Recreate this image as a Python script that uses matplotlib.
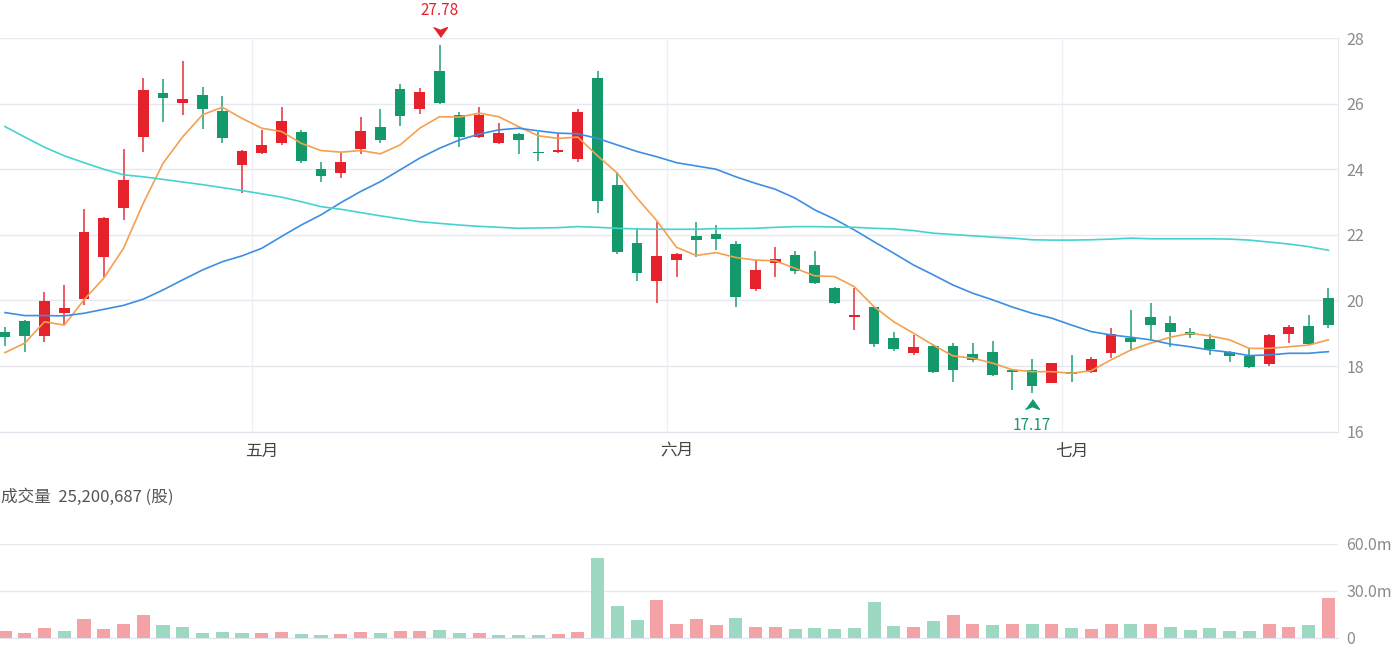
import matplotlib
matplotlib.use("Agg")
import matplotlib.pyplot as plt
import numpy as np
from matplotlib.ticker import FuncFormatter
from matplotlib.transforms import offset_copy

plt.rcParams['font.family'] = ['Noto Sans CJK SC', 'DejaVu Sans']

# daily prices
opens = [19.05, 19.37, 18.93, 19.61, 20.04, 21.32, 22.81, 24.98, 26.32, 26.02,
         26.27, 25.76, 24.13, 24.49, 24.79, 25.15, 24.00, 23.88, 24.62, 25.30,
         26.45, 25.84, 27.00, 25.66, 24.99, 24.81, 25.07, 24.54, 24.52, 24.30,
         26.77, 23.52, 21.76, 20.59, 21.23, 21.97, 22.02, 21.72, 20.34, 21.15,
         21.39, 21.08, 20.37, 19.51, 19.81, 18.85, 18.41, 18.61, 18.62, 18.37,
         18.44, 17.88, 17.88, 17.49, 17.83, 17.83, 18.39, 18.85, 19.51, 19.30,
         19.05, 18.82, 18.42, 18.31, 18.05, 18.98, 19.22, 20.07]
highs = [19.20, 19.40, 20.27, 20.47, 22.78, 22.55, 24.62, 26.79, 26.74, 27.30,
         26.50, 26.23, 24.60, 25.20, 25.91, 25.20, 24.23, 24.51, 25.60, 25.83,
         26.60, 26.47, 27.78, 25.74, 25.91, 25.40, 25.10, 25.15, 25.08, 25.84,
         27.00, 23.93, 22.18, 22.40, 21.45, 22.40, 22.30, 21.82, 21.23, 21.64,
         21.52, 21.51, 20.42, 20.37, 19.83, 19.05, 18.95, 18.64, 18.70, 18.70,
         18.77, 17.90, 18.21, 18.10, 18.34, 18.29, 19.15, 19.71, 19.93, 19.53,
         19.15, 18.98, 18.47, 18.54, 18.97, 19.25, 19.56, 20.39]
lows = [18.60, 18.44, 18.74, 19.25, 19.86, 20.73, 22.45, 24.52, 25.45, 25.66,
        25.23, 24.79, 23.29, 24.45, 24.75, 24.20, 23.62, 23.74, 24.46, 24.79,
        25.33, 25.68, 26.00, 24.69, 24.95, 24.77, 24.46, 24.26, 24.50, 24.23,
        22.66, 21.42, 20.60, 19.93, 20.71, 21.34, 21.54, 19.79, 20.30, 20.73,
        20.81, 20.50, 19.88, 19.10, 18.59, 18.47, 18.34, 17.80, 17.52, 18.12,
        17.70, 17.27, 17.17, 17.47, 17.52, 17.80, 18.24, 18.47, 18.82, 18.59,
        18.85, 18.34, 18.13, 17.94, 18.00, 18.70, 18.64, 19.15]
closes = [18.90, 18.93, 19.98, 19.76, 22.08, 22.52, 23.67, 26.42, 26.18, 26.14,
          25.83, 24.96, 24.56, 24.74, 25.48, 24.25, 23.80, 24.23, 25.18, 24.89,
          25.63, 26.34, 26.01, 24.98, 25.66, 25.10, 24.89, 24.49, 24.59, 25.74,
          23.04, 21.49, 20.83, 21.36, 21.42, 21.85, 21.88, 20.12, 20.93, 21.26,
          20.91, 20.52, 19.91, 19.56, 18.67, 18.51, 18.59, 17.83, 17.88, 18.19,
          17.73, 17.81, 17.39, 18.09, 17.76, 18.21, 18.97, 18.73, 19.25, 19.03,
          18.95, 18.52, 18.31, 17.96, 18.95, 19.20, 18.67, 19.25]
prev_close = 18.85  # close of the day before the first candle

# volume in millions of shares
volumes = [4.2, 3.4, 6.5, 4.6, 12.2, 5.9, 9.2, 14.9, 8.2, 6.7,
           3.4, 3.8, 2.9, 2.9, 3.6, 2.7, 2.1, 2.5, 3.6, 2.9,
           4.4, 4.4, 5.2, 2.9, 2.9, 2.1, 2.1, 2.1, 2.3, 4.0,
           50.7, 20.1, 11.5, 23.9, 9.2, 12.0, 8.2, 12.8, 7.3, 6.7,
           5.7, 6.1, 5.5, 6.1, 23.1, 7.5, 7.3, 10.9, 14.9, 9.0,
           8.2, 8.8, 9.0, 8.8, 6.1, 5.7, 8.8, 9.2, 9.2, 7.1,
           5.2, 6.1, 4.6, 4.6, 8.6, 7.3, 8.2, 25.200687]

# moving averages as drawn
ma5 = [18.41, 18.70, 19.35, 19.25, 20.02, 20.68, 21.59, 22.96, 24.18, 24.99,
       25.66, 25.89, 25.55, 25.25, 25.15, 24.79, 24.57, 24.52, 24.57, 24.47,
       24.74, 25.25, 25.60, 25.59, 25.71, 25.60, 25.30, 25.02, 24.94, 24.98,
       24.41, 23.88, 23.12, 22.43, 21.62, 21.37, 21.46, 21.31, 21.23, 21.21,
       20.98, 20.75, 20.73, 20.42, 19.81, 19.35, 19.00, 18.64, 18.31, 18.24,
       18.09, 17.89, 17.83, 17.83, 17.78, 17.86, 18.19, 18.49, 18.70, 18.88,
       19.00, 18.92, 18.80, 18.54, 18.54, 18.59, 18.64, 18.80]
ma20 = [19.63, 19.54, 19.54, 19.53, 19.61, 19.73, 19.85, 20.04, 20.32, 20.63,
        20.93, 21.18, 21.36, 21.59, 21.95, 22.30, 22.61, 22.98, 23.32, 23.62,
        23.98, 24.34, 24.64, 24.89, 25.07, 25.20, 25.25, 25.17, 25.10, 25.08,
        24.94, 24.74, 24.54, 24.38, 24.20, 24.10, 24.00, 23.77, 23.57, 23.39,
        23.12, 22.76, 22.48, 22.15, 21.79, 21.44, 21.08, 20.78, 20.47, 20.22,
        20.02, 19.80, 19.61, 19.46, 19.25, 19.05, 18.95, 18.88, 18.80, 18.67,
        18.59, 18.49, 18.42, 18.32, 18.34, 18.39, 18.39, 18.44]
ma60 = [25.30, 24.98, 24.67, 24.41, 24.20, 24.00, 23.83, 23.77, 23.69, 23.61,
        23.53, 23.44, 23.35, 23.25, 23.15, 23.01, 22.86, 22.78, 22.68, 22.58,
        22.49, 22.40, 22.35, 22.30, 22.26, 22.23, 22.20, 22.21, 22.22, 22.25,
        22.23, 22.20, 22.18, 22.17, 22.17, 22.17, 22.19, 22.19, 22.20, 22.23,
        22.25, 22.25, 22.24, 22.23, 22.20, 22.18, 22.13, 22.05, 22.01, 21.97,
        21.93, 21.90, 21.85, 21.84, 21.84, 21.85, 21.87, 21.90, 21.88, 21.88,
        21.88, 21.88, 21.87, 21.84, 21.78, 21.72, 21.64, 21.53]

months = ['五月', '六月', '七月']
month_start = [13, 34, 54]  # index of first trading day of each month

UP = '#e5222c'
DOWN = '#14996b'
VOL_UP = '#f3a2a5'
VOL_DOWN = '#9dd8c3'
GRID = '#e7e9f1'
TICK = '#8a8a8a'

o = np.array(opens)
h = np.array(highs)
l = np.array(lows)
c = np.array(closes)
x = np.arange(len(c))

fig = plt.figure(figsize=(14, 6.5), dpi=100)
W, H = 1400, 650

# ---- price panel
ax = fig.add_axes([0, 1 - 431.7 / H, 1338 / W, (431.7 - 38) / H])
up = c >= o
col = np.where(up, UP, DOWN)
ax.vlines(x, l, h, colors=col, lw=1.3, alpha=0.8, zorder=3)
body_lo = np.minimum(o, c)
body_h = np.maximum(np.abs(c - o), 0.05)
ax.bar(x, body_h, bottom=body_lo, width=0.55, color=col, zorder=4)

ax.plot(x, ma5, color='#f5a04e', lw=1.2, zorder=5)
ax.plot(x, ma20, color='#3d8ee3', lw=1.2, zorder=5)
ax.plot(x, ma60, color='#44d3cf', lw=1.2, zorder=5)

ax.set_xlim(-0.253, 67.49)
ax.set_ylim(16, 28)
ax.set_yticks(np.arange(16, 29, 2))
ax.yaxis.tick_right()
ax.tick_params(axis='y', length=0, pad=6, labelsize=11.5, labelcolor=TICK)
ax.set_xticks(month_start)
ax.set_xticklabels(months)
ax.tick_params(axis='x', length=0, pad=8, labelsize=12, labelcolor='#444')
ax.set_xticks(np.array(month_start) - 0.5, minor=True)
ax.tick_params(axis='x', which='minor', length=0)
ax.grid(axis='y', color=GRID, lw=1)
ax.grid(axis='x', which='minor', color='#eff0f5', lw=1)
for s in ['left', 'top']:
    ax.spines[s].set_visible(False)
ax.spines['right'].set_color(GRID)
ax.spines['bottom'].set_color('#dfe2ea')

# highest / lowest markers
ih = int(np.argmax(h))
il = int(np.argmin(l))
down_tri = [(-1, 0.7), (0, 0.3), (1, 0.7), (0, -0.7)]
up_tri = [(-1, -0.7), (0, -0.3), (1, -0.7), (0, 0.7)]
t = offset_copy(ax.transData, fig=fig, x=0, y=9.4, units='points')
ax.plot(ih, h[ih], marker=down_tri, ms=10, color=UP, transform=t, clip_on=False, zorder=6)
t = offset_copy(ax.transData, fig=fig, x=0, y=25, units='points')
ax.text(ih, h[ih], f"{h[ih]:.2f}", transform=t, ha='center', va='center',
        color=UP, fontsize=11, clip_on=False)
t = offset_copy(ax.transData, fig=fig, x=0, y=-8, units='points')
ax.plot(il, l[il], marker=up_tri, ms=10, color=DOWN, transform=t, clip_on=False, zorder=6)
t = offset_copy(ax.transData, fig=fig, x=0, y=-23, units='points')
ax.text(il, l[il], f"{l[il]:.2f}", transform=t, ha='center', va='center',
        color=DOWN, fontsize=11, clip_on=False)

# ---- volume panel
vax = fig.add_axes([0, 1 - 638 / H, 1338 / W, (638 - 543.5) / H])
prev = np.concatenate([[prev_close], c[:-1]])
vcol = np.where(c >= prev, VOL_UP, VOL_DOWN)
vax.bar(x, volumes, width=0.66, color=vcol, zorder=3)
vax.set_xlim(-0.253, 67.49)
vax.set_ylim(0, 60)
vax.set_yticks([0, 30, 60])
vax.yaxis.set_major_formatter(FuncFormatter(lambda v, p: '0' if v == 0 else f"{v:.1f}m"))
vax.yaxis.tick_right()
vax.tick_params(axis='y', length=0, pad=6, labelsize=11.5, labelcolor=TICK)
vax.set_xticks([])
vax.grid(axis='y', color=GRID, lw=1)
for s in ['left', 'top', 'right']:
    vax.spines[s].set_visible(False)
vax.spines['bottom'].set_color('#e3e6ee')

fig.text(1 / W, 1 - 497 / H, f"成交量  {volumes[-1] * 1e6:,.0f} (股)",
         ha='left', va='center', fontsize=12, color='#555')

fig.savefig('out.png', dpi=100)
